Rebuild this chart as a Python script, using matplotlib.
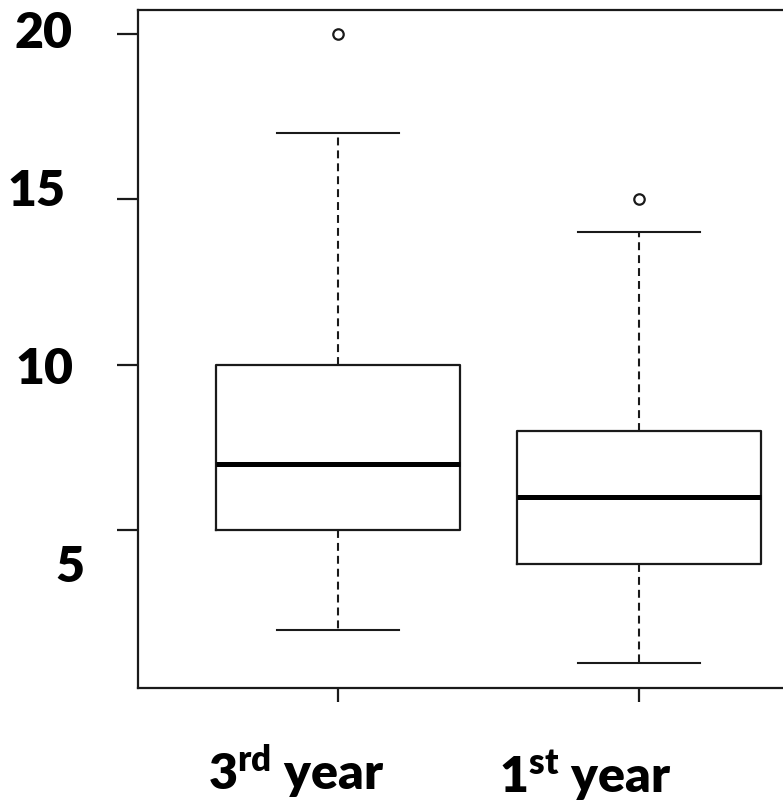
import matplotlib
matplotlib.use('Agg')
import matplotlib.pyplot as plt

# Values
groups = [r'3$^{\rm rd}$ year', r'1$^{\rm st}$ year']
q1 = [5, 4]
medians = [7, 6]
q3 = [10, 8]
whisker_low = [2, 1]
whisker_high = [17, 14]
outliers = [[20], [15]]
yticks = [5, 10, 15, 20]

plt.rcParams['font.family'] = 'Lato'
plt.rcParams['mathtext.fontset'] = 'custom'
plt.rcParams['mathtext.rm'] = 'Lato:heavy'
plt.rcParams['mathtext.it'] = 'Lato:heavy'
plt.rcParams['mathtext.bf'] = 'Lato:heavy'

stats = []
for i in range(len(groups)):
    stats.append({'q1': q1[i], 'med': medians[i], 'q3': q3[i],
                  'whislo': whisker_low[i], 'whishi': whisker_high[i],
                  'fliers': outliers[i]})

fig = plt.figure(figsize=(7.83, 8.06), dpi=100)
ax = fig.add_axes([138 / 783, 1 - 688 / 806, 658 / 783, 678 / 806])

ink = '#1a1a1a'
ax.bxp(stats, positions=[1, 2], widths=0.81, patch_artist=False,
       boxprops=dict(color=ink, linewidth=1.6),
       medianprops=dict(color='black', linewidth=3.6),
       whiskerprops=dict(color=ink, linewidth=1.5, linestyle=(0, (3.8, 2.4))),
       capprops=dict(color=ink, linewidth=1.5),
       flierprops=dict(marker='o', markersize=7.5, markerfacecolor='none',
                       markeredgecolor=ink, markeredgewidth=1.6))

ax.set_xlim(0.335, 2.52)
ax.set_ylim(0.24, 20.72)

for side in ax.spines:
    ax.spines[side].set_linewidth(1.6)
    ax.spines[side].set_color(ink)
# the frame runs off the right edge of the picture
ax.spines['right'].set_visible(False)

ax.set_yticks(yticks)
ax.set_yticklabels([])
ax.tick_params(axis='y', length=15, width=1.6, color=ink)
ax.set_xticks([1, 2])
ax.set_xticklabels([])
ax.tick_params(axis='x', length=10, width=1.6, color=ink)

# hand-placed tick labels, as in the original slide
ylab_offsets = [(-54, -37), (-65, -5), (-72, 8), (-65, 0)]
for val, (dx, dy) in zip(yticks, ylab_offsets):
    ax.annotate(str(val), xy=(0, val), xycoords=('axes fraction', 'data'),
                xytext=(dx, dy), textcoords='offset pixels',
                ha='right', va='center', fontsize=36, fontweight='heavy')

xlab_offsets = [(-130, -102), (-140, -105)]
for pos, name, (dx, dy) in zip([1, 2], groups, xlab_offsets):
    ax.annotate(name, xy=(pos, 0), xycoords=('data', 'axes fraction'),
                xytext=(dx, dy), textcoords='offset pixels',
                ha='left', va='baseline', fontsize=36, fontweight='heavy')

fig.savefig('out.png', dpi=100)
